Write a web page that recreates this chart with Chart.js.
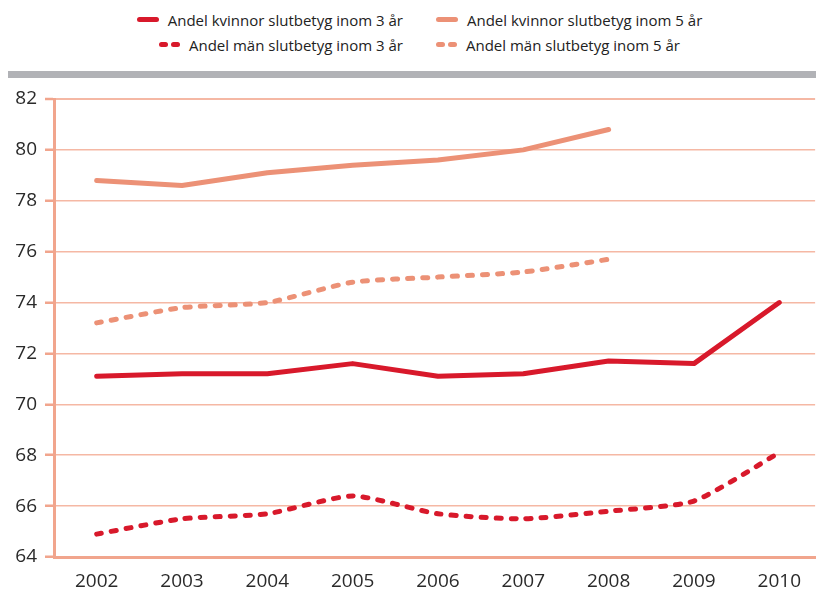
<!DOCTYPE html>
<html lang="sv">
<head>
<meta charset="utf-8">
<title>Andel med slutbetyg</title>
<script src="https://cdn.jsdelivr.net/npm/chart.js@4.4.1/dist/chart.umd.min.js"></script>
<style>
  html, body { margin: 0; padding: 0; background: #fff; }
  #wrap { position: relative; width: 816px; height: 589px; overflow: hidden; }
  #chart { position: absolute; left: 0; top: 0; }
  .band { position: absolute; left: 8px; top: 71px; width: 808px; height: 7px; background: #b1b2b6; }
  .legend-col { position: absolute; top: 0; display: flex; flex-direction: column; }
  .legend-col.left { right: 413px; align-items: flex-end; }
  .legend-col.right { left: 436px; align-items: flex-start; }
  .legend-item { display: flex; align-items: center; height: 25px; font-family: "Open Sans", sans-serif; font-size: 15px; color: #222; white-space: nowrap; }
  .legend-col .legend-item:first-child { margin-top: 7px; }
  .mark { display: flex; gap: 3px; margin-right: 9px; }
  .mark span { display: block; height: 5px; border-radius: 3px; }
</style>
</head>
<body>
<div id="wrap">
  <div class="legend-col left" id="legendLeft"></div>
  <div class="legend-col right" id="legendRight"></div>
  <div class="band"></div>
  <canvas id="chart" width="816" height="589"></canvas>
</div>
<script>
// Years on the x axis
const years = [2002, 2003, 2004, 2005, 2006, 2007, 2008, 2009, 2010];

// Share (%) with final grades within 3 and 5 years
const kvinnor3 = [71.1, 71.2, 71.2, 71.6, 71.1, 71.2, 71.7, 71.6, 74.0];
const kvinnor5 = [78.8, 78.6, 79.1, 79.4, 79.6, 80.0, 80.8, null, null];
const man3     = [64.9, 65.5, 65.7, 66.4, 65.7, 65.5, 65.8, 66.2, 68.1];
const man5     = [73.2, 73.8, 74.0, 74.8, 75.0, 75.2, 75.7, null, null];

// Y-axis tick values
const yTicks = [64, 66, 68, 70, 72, 74, 76, 78, 80, 82];

const seriesNames = [
  'Andel kvinnor slutbetyg inom 3 år',
  'Andel kvinnor slutbetyg inom 5 år',
  'Andel män slutbetyg inom 3 år',
  'Andel män slutbetyg inom 5 år'
];

const RED = '#d8192b';
const SALMON = '#ec9176';
const GRID = '#f5b8a4';
const AXIS = '#f1a58d';

function points(values) {
  return years.map((y, i) => ({ x: y, y: values[i] })).filter(p => p.y !== null);
}

function lineSet(label, values, color, dashed) {
  return {
    label: label,
    data: points(values),
    borderColor: color,
    backgroundColor: color,
    borderWidth: 5,
    borderCapStyle: 'round',
    borderJoinStyle: 'round',
    borderDash: dashed ? [5, 10] : [],
    tension: dashed ? 0.2 : 0,
    pointRadius: 0,
    pointHoverRadius: 0,
    fill: false
  };
}

const datasets = [
  lineSet(seriesNames[0], kvinnor3, RED, false),
  lineSet(seriesNames[1], kvinnor5, SALMON, false),
  lineSet(seriesNames[2], man3, RED, true),
  lineSet(seriesNames[3], man5, SALMON, true)
];

// Legend: two columns, left column right-aligned, right column left-aligned
function legendItem(ds) {
  const item = document.createElement('div');
  item.className = 'legend-item';
  const mark = document.createElement('div');
  mark.className = 'mark';
  const parts = ds.borderDash.length ? [9, 9] : [22];
  parts.forEach(w => {
    const s = document.createElement('span');
    s.style.width = w + 'px';
    s.style.background = ds.borderColor;
    mark.appendChild(s);
  });
  const text = document.createElement('span');
  text.textContent = ds.label;
  item.appendChild(mark);
  item.appendChild(text);
  return item;
}
document.getElementById('legendLeft').appendChild(legendItem(datasets[0]));
document.getElementById('legendLeft').appendChild(legendItem(datasets[2]));
document.getElementById('legendRight').appendChild(legendItem(datasets[1]));
document.getElementById('legendRight').appendChild(legendItem(datasets[3]));

const tickFont = { family: '"Open Sans", sans-serif', size: 19, lineHeight: 1 };

new Chart(document.getElementById('chart'), {
  type: 'line',
  data: { datasets: datasets },
  options: {
    responsive: false,
    animation: false,
    devicePixelRatio: 1,
    layout: { padding: { top: 99, left: 0, right: 0, bottom: 0 } },
    plugins: {
      legend: { display: false },
      tooltip: { enabled: false }
    },
    scales: {
      x: {
        type: 'linear',
        min: years[0] - 0.5,
        max: years[years.length - 1] + 0.42,
        afterBuildTicks: scale => { scale.ticks = years.map(v => ({ value: v })); },
        afterFit: scale => { scale.height = 32; },
        ticks: {
          font: tickFont,
          color: '#2a2a2a',
          padding: 15,
          maxRotation: 0,
          autoSkip: false,
          callback: v => String(v)
        },
        grid: { display: false, drawTicks: false },
        border: { display: true, color: AXIS, width: 3 }
      },
      y: {
        min: yTicks[0],
        max: yTicks[yTicks.length - 1],
        afterBuildTicks: scale => { scale.ticks = yTicks.map(v => ({ value: v })); },
        afterFit: scale => { scale.width = 54; },
        ticks: {
          font: tickFont,
          color: '#2a2a2a',
          padding: 8
        },
        grid: {
          color: GRID,
          lineWidth: ctx => (ctx.tick && ctx.tick.value === yTicks[yTicks.length - 1]) ? 2 : 1.5,
          drawTicks: true,
          tickLength: 9,
          tickWidth: 2.5,
          tickColor: AXIS
        },
        border: { display: true, color: AXIS, width: 3 }
      }
    }
  }
});
</script>
</body>
</html>
